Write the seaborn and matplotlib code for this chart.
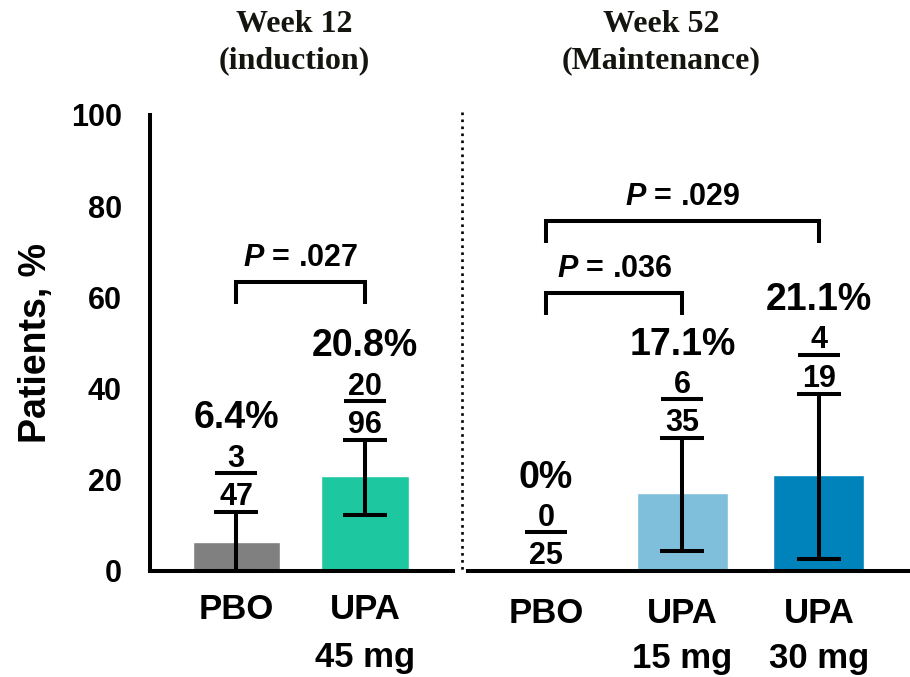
import matplotlib
matplotlib.use("Agg")
import matplotlib.pyplot as plt
from matplotlib.lines import Line2D
from matplotlib.transforms import offset_copy
import pandas as pd
import seaborn as sns

# Week 12 (induction)
induction_groups = ["PBO", "UPA\n45 mg"]
induction_pct = [6.4, 20.8]
induction_resp = [3, 20]
induction_n = [47, 96]
induction_ci_low = [0.0, 12.3]
induction_ci_high = [13.0, 28.8]
induction_colors = ["#808080", "#1DC7A0"]
induction_pvals = [(0, 1, ".027")]

# Week 52 (maintenance)
maint_groups = ["PBO", "UPA\n15 mg", "UPA\n30 mg"]
maint_pct = [0.0, 17.1, 21.1]
maint_resp = [0, 6, 4]
maint_n = [25, 35, 19]
maint_ci_low = [0.0, 4.4, 2.6]
maint_ci_high = [0.0, 29.2, 38.9]
maint_colors = ["#808080", "#7FBFDC", "#0083BB"]
maint_pvals = [(0, 1, ".036"), (0, 2, ".029")]

sns.set_theme(style="white")
plt.rcParams["font.family"] = ["Liberation Sans", "DejaVu Sans"]
plt.rcParams["font.weight"] = "bold"
plt.rcParams["mathtext.fontset"] = "custom"
plt.rcParams["mathtext.it"] = "Liberation Sans:italic:bold"
plt.rcParams["mathtext.rm"] = "Liberation Sans:bold"
for key in ("text.color", "axes.labelcolor", "xtick.color", "ytick.color",
            "axes.edgecolor"):
    plt.rcParams[key] = "black"

W, H = 910, 677
LW = 2.9
fig = plt.figure(figsize=(W / 100, H / 100), dpi=100)
fig.patch.set_facecolor("white")

y_bottom = (H - 571) / H
y_height = (571 - 115) / H
ax_l = fig.add_axes([150 / W, y_bottom, (453 - 150) / W, y_height])
ax_r = fig.add_axes([468 / W, y_bottom, (910 - 468) / W, y_height])


def draw_panel(ax, groups, pct, resp, n, lo, hi, colors, xlim, width,
               pvals, bracket_y, tick_pad, tick_spacing):
    df = pd.DataFrame({"group": groups, "pct": pct})
    sns.barplot(data=df, x="group", y="pct", hue="group", order=groups,
                hue_order=groups, palette=colors, width=width, saturation=1,
                errorbar=None, legend=False, ax=ax)
    for i, (v, l, h) in enumerate(zip(pct, lo, hi)):
        if h > l:
            ax.errorbar(i, v, yerr=[[v - l], [h - v]], fmt="none",
                        ecolor="black", elinewidth=LW, capsize=16,
                        capthick=LW, zorder=3, clip_on=False)
        line_tr = offset_copy(ax.transData, fig=fig, x=0, y=28, units="points")
        ax.plot([i], [h], marker="_", ms=30, mew=LW, color="black",
                transform=line_tr, clip_on=False, zorder=4)
        ax.text(i, h, f"{resp[i]}", fontsize=22, fontweight="bold",
                ha="center", va="baseline", clip_on=False, color="black",
                transform=offset_copy(ax.transData, fig=fig, y=32.5,
                                      units="points"))
        ax.text(i, h, f"{n[i]}", fontsize=22, fontweight="bold",
                ha="center", va="baseline", clip_on=False, color="black",
                transform=offset_copy(ax.transData, fig=fig, y=5,
                                      units="points"))
        ax.text(i, h, f"{v:g}%", fontsize=27, fontweight="bold",
                ha="center", va="baseline", clip_on=False, color="black",
                transform=offset_copy(ax.transData, fig=fig, y=60,
                                      units="points"))
    for (a, b, p), yb in zip(pvals, bracket_y):
        leg = 4.7
        ax.plot([a, a, b, b], [yb - leg, yb, yb, yb - leg], color="black",
                lw=LW, solid_joinstyle="miter", solid_capstyle="butt",
                clip_on=False, zorder=4)
        ax.text((a + b) / 2, yb, f"$P$ = {p}", fontsize=22,
                fontweight="bold", ha="center", va="baseline", clip_on=False,
                color="black",
                transform=offset_copy(ax.transData, fig=fig, y=12,
                                      units="points"))

    ax.set_xlim(*xlim)
    ax.set_ylim(0, 100)
    ax.set_xticks(range(len(groups)))
    ax.set_xticklabels(groups, fontsize=25, fontweight="bold",
                       linespacing=tick_spacing, color="black")
    ax.tick_params(axis="x", length=0, pad=tick_pad)
    ax.set_xlabel("")
    for side in ("top", "right"):
        ax.spines[side].set_visible(False)
    ax.spines["bottom"].set_linewidth(LW)
    ax.spines["bottom"].set_color("black")
    ax.set_facecolor("none")


draw_panel(ax_l, induction_groups, induction_pct, induction_resp, induction_n,
           induction_ci_low, induction_ci_high, induction_colors,
           (-0.667, 1.682), 0.675, induction_pvals, [63.3], 16, 1.55)
draw_panel(ax_r, maint_groups, maint_pct, maint_resp, maint_n,
           maint_ci_low, maint_ci_high, maint_colors,
           (-0.571, 2.667), 0.667, maint_pvals, [60.9, 76.7], 19, 1.45)

# y axis on the induction panel only
ax_l.set_yticks(range(0, 101, 20))
ax_l.tick_params(axis="y", length=14.4, width=LW, pad=5.8, labelsize=22,
                 colors="black")
for lab in ax_l.get_yticklabels():
    lab.set_fontweight("bold")
ax_l.spines["left"].set_linewidth(LW)
ax_l.spines["left"].set_color("black")
ax_l.set_ylabel("Patients, %", fontsize=27, fontweight="bold", labelpad=12,
                color="black")

ax_r.spines["left"].set_visible(False)
ax_r.set_yticks([])
ax_r.set_ylabel("")

# panel headings
for xc, lines in ((294, ("Week 12", "(induction)")),
                  (661, ("Week 52", "(Maintenance)"))):
    for yb, txt in zip((32, 68), lines):
        fig.text(xc / W, (H - yb) / H, txt, family="Liberation Serif",
                 fontweight="bold", fontsize=23, ha="center", va="baseline",
                 color="#151510")

# dotted divider between the two periods
fig.add_artist(Line2D([462 / W, 462 / W], [(H - 112) / H, (H - 572) / H],
                      transform=fig.transFigure, ls=":", lw=1.9,
                      color="black"))

fig.savefig("out.png", dpi=100, facecolor="white")
